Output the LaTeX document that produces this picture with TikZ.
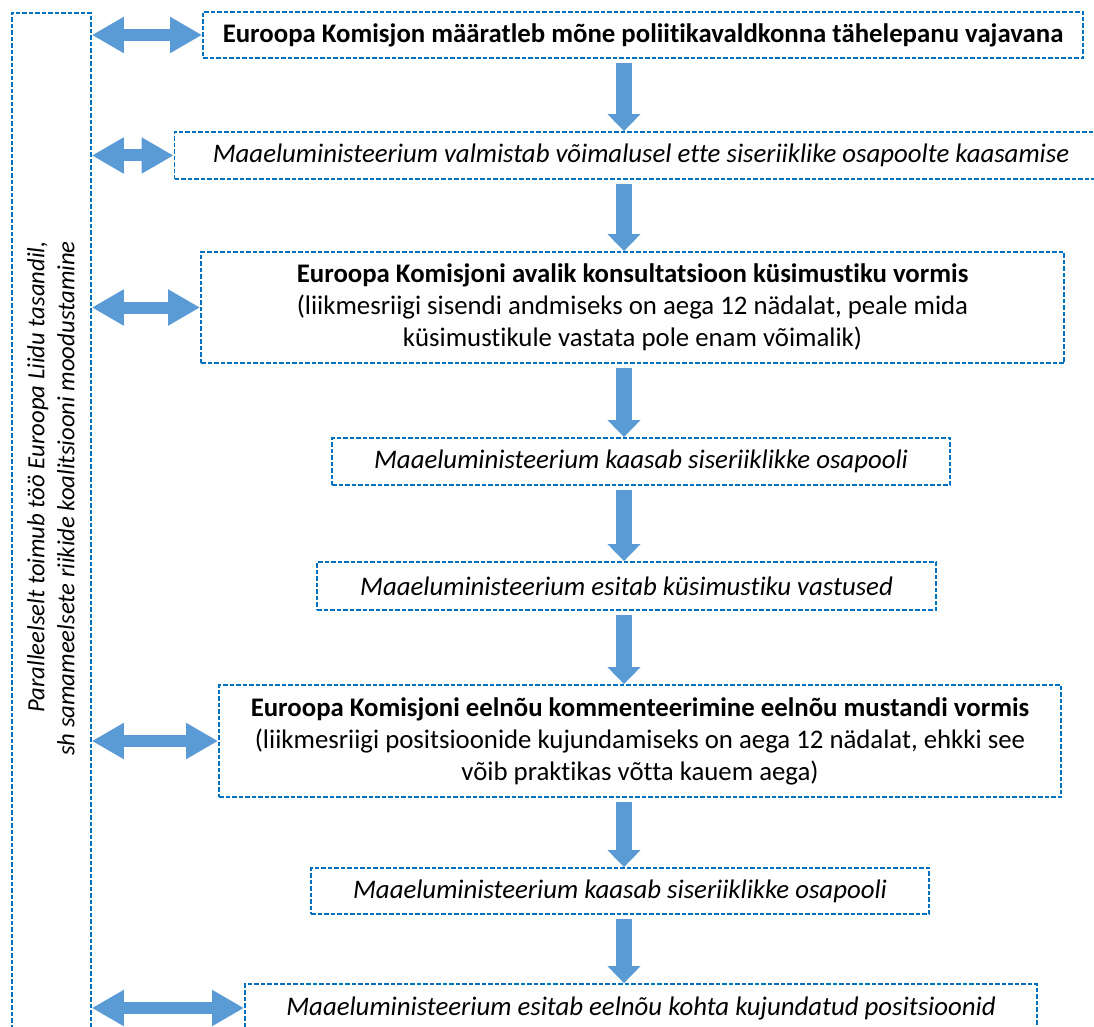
\documentclass[tikz,border=0pt]{standalone}
\usepackage{fontspec}
\setmainfont{Carlito}[Ligatures=NoCommon]
\usetikzlibrary{arrows.meta}
\definecolor{boxblue}{HTML}{0070C0}
\definecolor{arrblue}{HTML}{5B9BD5}

\begin{document}
\begin{tikzpicture}[x=1pt,y=-1pt,font=\fontsize{26.8}{32}\selectfont,
  dbox/.style={draw=boxblue,line width=1.8pt,dash pattern=on 4.5pt off 2pt,align=center,inner sep=0pt},
  ibox/.style={dbox,font=\fontsize{26.8}{32}\selectfont\itshape},
  harr/.style={draw=arrblue,line width=12pt,{Triangle[length=32pt,width=34pt]}-{Triangle[length=32pt,width=34pt]}},
  varr/.style={draw=arrblue,line width=16pt,-{Triangle[length=17pt,width=32pt]}}]
\useasboundingbox (0,0) rectangle (1094,1027);
\clip (0,0) rectangle (1094,1027);
% left column
\node[dbox,anchor=north west,minimum width=79pt,minimum height=1040pt] (par) at (11,12) {};
\node[rotate=90,anchor=east,align=right,inner sep=0pt,font=\fontsize{24.7}{30}\selectfont\itshape] (partxt) at (51,241)
  {Paralleelselt toimub töö Euroopa Liidu tasandil,\\sh samameelsete riikide koalitsiooni moodustamine};
% steps
\node[dbox,minimum width=880pt,minimum height=46pt] (s1) at (643,35)
  {\bfseries Euroopa Komisjon määratleb mõne poliitikavaldkonna tähelepanu vajavana};
\node[ibox,minimum width=933pt,minimum height=47pt] (s2) at (641,155.5)
  {Maaeluministeerium valmistab võimalusel ette siseriiklike osapoolte kaasamise};
\node[dbox,minimum width=863pt,minimum height=111pt] (s3) at (632.5,307.5)
  {\textbf{Euroopa Komisjoni avalik konsultatsioon küsimustiku vormis}\\
   (liikmesriigi sisendi andmiseks on aega 12 nädalat, peale mida\\
   küsimustikule vastata pole enam võimalik)};
\node[ibox,minimum width=618pt,minimum height=47pt] (s4) at (641,461.5)
  {Maaeluministeerium kaasab siseriiklikke osapooli};
\node[ibox,minimum width=619pt,minimum height=48pt] (s5) at (626.5,586)
  {Maaeluministeerium esitab küsimustiku vastused};
\node[dbox,minimum width=842pt,minimum height=112pt] (s6) at (640,741)
  {\textbf{Euroopa Komisjoni eelnõu kommenteerimine eelnõu mustandi vormis}\\
   (liikmesriigi positsioonide kujundamiseks on aega 12 nädalat, ehkki see\\
   võib praktikas võtta kauem aega)};
\node[ibox,minimum width=618pt,minimum height=46pt] (s7) at (620,891)
  {Maaeluministeerium kaasab siseriiklikke osapooli};
\node[ibox,minimum width=792pt,minimum height=48pt] (s8) at (641,1008)
  {Maaeluministeerium esitab eelnõu kohta kujundatud positsioonid};
% arrows
\coordinate (ax) at (624,0);
\foreach \a/\b in {s1/s2,s2/s3,s3/s4,s4/s5,s5/s6,s6/s7,s7/s8}
  \draw[varr] ([yshift=-4pt]\a.south -| ax) -- (\b.north -| ax);
\foreach \b in {s1,s2,s3,s6,s8}
  \draw[harr] (par.east |- \b.west) -- (\b.west);
\end{tikzpicture}
\end{document}
